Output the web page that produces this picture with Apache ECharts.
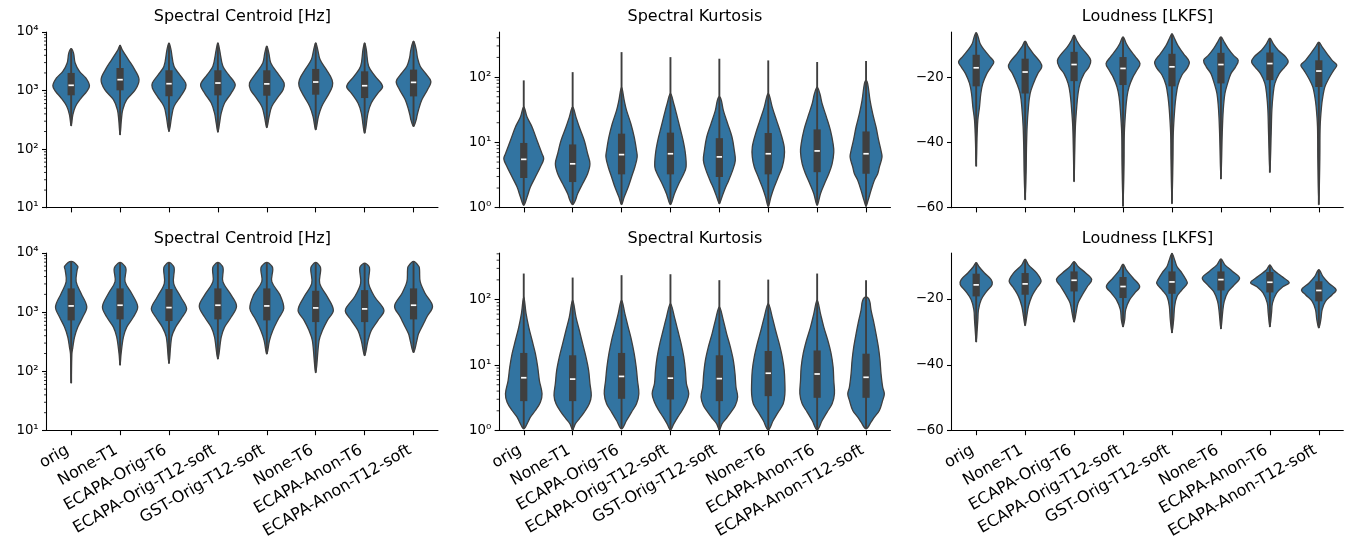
<!DOCTYPE html>
<html><head><meta charset="utf-8">
<script src="https://cdn.jsdelivr.net/npm/echarts@6/dist/echarts.min.js"></script>
<style>html,body{margin:0;padding:0;background:#fff}#c{width:1351px;height:538px}</style>
</head><body><div id="c"></div>
<script>
const categories = ['orig','None-T1','ECAPA-Orig-T6','ECAPA-Orig-T12-soft','GST-Orig-T12-soft','None-T6','ECAPA-Anon-T6','ECAPA-Anon-T12-soft'];
const panelTitles = ['Spectral Centroid [Hz]','Spectral Kurtosis','Loudness [LKFS]'];

const centroidTicks = [10,100,1000,10000];
const centroidMinorTicks = [20,30,40,50,60,70,80,90,200,300,400,500,600,700,800,900,2000,3000,4000,5000,6000,7000,8000,9000];
const kurtosisTicks = [1,10,100];
const kurtosisMinorTicks = [2,3,4,5,6,7,8,9,20,30,40,50,60,70,80,90,200,300,400,500];
const loudnessTicks = [-60,-40,-20];

// box stats per violin: [whisker low, q1, median, q3, whisker high]
// shapes per violin: [value, relative density] from top tip to bottom tip

// ---- top row ----
const centroidTopStats = [
  [250,830,1230,2000,5200],[175,1010,1535,2430,5950],[200,800,1310,2220,6520],[195,828,1345,2220,6520],
  [234,817,1300,2220,5710],[214,850,1400,2340,6520],[187,745,1210,2130,6520],[244,795,1380,2280,6950]
];
const centroidTopShapes = [
  [[5200,0],[4390,7],[2960,12],[2130,25],[1640,44],[1210,55],[968,47],[745,30],[536,13],[386,5],[250,0]],
  [[5950,0],[5010,6],[3380,25],[2280,44],[1535,57],[1035,46],[698,20],[470,8],[317,4],[175,0]],
  [[6520,0],[5010,6],[2600,15],[1870,32],[1345,50],[1105,50],[795,35],[536,15],[361,8],[200,0]],
  [[6520,0],[5010,5],[2600,15],[1870,32],[1260,52],[907,40],[612,20],[412,10],[278,5],[195,0]],
  [[5710,0],[4390,6],[2960,12],[2000,32],[1345,52],[1035,49],[795,35],[536,15],[361,7],[234,0]],
  [[6520,0],[5010,6],[3380,13],[2280,32],[1535,49],[1180,50],[795,35],[536,18],[361,8],[214,0]],
  [[6520,0],[5010,5],[2600,12],[1750,32],[1180,54],[907,40],[612,20],[412,10],[187,0]],
  [[6950,0],[5010,8],[3600,12],[2600,20],[2000,35],[1440,52],[1035,42],[698,25],[470,15],[361,10],[317,8],[244,0]]
];

const kurtosisTopStats = [
  [1.09,2.85,5.5,9.8,89],[1.12,2.47,4.7,9.3,119],[1.12,3.24,6.5,13.6,241],[1.12,3.24,6.7,14.1,202],
  [1.15,2.95,6.0,11.6,191],[1.05,3.24,6.7,13.9,180],[1.09,3.5,7.4,15.8,170],[1.05,3.31,6.7,14.7,176]
];
const kurtosisTopShapes = [
  [[35,0],[24.4,10],[17.2,25],[10.7,40],[6.7,55],[5.6,60],[4.2,50],[2.95,35],[2.07,20],[1.46,10],[1.09,0]],
  [[35,0],[24.4,10],[17.2,20],[10.7,35],[6.7,45],[4.7,52],[3.31,45],[2.33,30],[1.64,15],[1.29,8],[1.12,0]],
  [[70,0],[44,8],[30.9,15],[19.3,28],[12.1,38],[7.5,45],[5.97,47],[4.2,40],[2.95,30],[2.07,20],[1.46,8],[1.12,0]],
  [[56,0],[39,10],[27.5,18],[17.2,28],[10.7,38],[6.7,45],[4.2,47],[3.31,40],[2.33,25],[1.64,12],[1.12,0]],
  [[50,0],[44,6],[30.9,12],[19.3,25],[12.1,38],[7.5,45],[5.3,48],[3.73,40],[2.62,28],[1.84,15],[1.37,6],[1.15,0]],
  [[56,0],[49,5],[34.7,12],[21.7,25],[13.6,38],[8.5,48],[5.97,48],[4.2,42],[2.95,30],[2.07,18],[1.46,8],[1.05,0]],
  [[70,0],[56,8],[39,15],[24.4,28],[15.3,40],[9.5,48],[7.1,50],[4.7,45],[3.31,35],[2.33,22],[1.64,10],[1.09,0]],
  [[89,0],[79,5],[44,12],[27.5,20],[17.2,30],[10.7,38],[7.5,45],[5.97,48],[4.2,40],[3.31,35],[2.62,25],[1.84,15],[1.29,6],[1.05,0]]
];

const loudnessTopStats = [
  [-47.3,-22.7,-17,-13,-6.2],[-57.6,-24.9,-18.3,-14.2,-8.8],[-52,-21.1,-16,-12.1,-7],[-59.6,-22.3,-17.2,-13.7,-7.5],
  [-58.8,-22.7,-16.7,-12.7,-6.5],[-51.2,-21.8,-16,-12.4,-7.5],[-49.2,-20.8,-15.7,-12.3,-7.9],[-59.1,-22.9,-18,-14.7,-9.1]
];
const loudnessTopShapes = [
  [[-6.2,0],[-7.5,6],[-9.6,12],[-11.6,25],[-13.7,42],[-15.2,53],[-16.7,45],[-18.8,32],[-21.8,20],[-24.9,14],[-29,10],[-33,5],[-37,3],[-40,2],[-47.3,0]],
  [[-8.8,0],[-10.6,10],[-12.7,25],[-15.2,45],[-16.7,50],[-18.8,38],[-21.8,25],[-24.9,15],[-29,10],[-35,6],[-42,4],[-49,3],[-57.6,0]],
  [[-7,0],[-8.6,8],[-10.6,20],[-12.7,38],[-14.7,50],[-16.7,45],[-18.8,30],[-21.8,18],[-24.9,12],[-29,8],[-35,4],[-43,2],[-52,0]],
  [[-7.5,0],[-9.6,10],[-11.6,22],[-13.7,38],[-15.7,51],[-17.7,42],[-19.8,30],[-22.9,18],[-25.9,12],[-30,8],[-37,4],[-47,3],[-59.6,0]],
  [[-6.5,0],[-8.1,8],[-10.2,18],[-12.7,35],[-15.2,52],[-17.2,45],[-19.2,30],[-22.3,18],[-25.9,12],[-30,8],[-37,4],[-45,3],[-58.8,0]],
  [[-7.5,0],[-9.1,10],[-11.1,22],[-13.2,38],[-14.7,52],[-16.7,44],[-18.8,30],[-21.8,20],[-24.9,12],[-30,7],[-37,4],[-51.2,0]],
  [[-7.9,0],[-9.6,10],[-11.6,25],[-13.7,48],[-15.2,55],[-16.7,45],[-18.8,28],[-21.8,15],[-24.9,10],[-30,6],[-37,4],[-49.2,0]],
  [[-9.1,0],[-10.6,10],[-12.7,25],[-14.7,40],[-16.2,54],[-17.7,45],[-20.3,30],[-22.9,18],[-25.9,12],[-29,8],[-35,4],[-45,3],[-59.1,0]]
];

// ---- bottom row ----
const centroidBottomStats = [
  [63,726,1275,2520,7200],[127,755,1310,2520,6920],[136,708,1195,2460,6920],[161,755,1310,2520,6920],
  [196,726,1275,2520,6920],[95,680,1180,2300,6920],[184,680,1135,2360,6740],[209,755,1310,2520,7200]
];
const centroidBottomShapes = [
  [[7200,0],[5920,20],[5190,18],[3280,15],[2070,30],[1230,47],[828,35],[559,20],[377,10],[255,5],[196,2],[63,0]],
  [[6920,0],[5920,15],[5190,18],[3280,15],[2070,35],[1230,53],[828,40],[559,20],[377,10],[196,3],[127,0]],
  [[6920,0],[5920,14],[5190,16],[3070,14],[1820,35],[1150,53],[828,40],[559,20],[377,8],[136,0]],
  [[6920,0],[5920,14],[5190,16],[3280,15],[1940,40],[1260,56],[828,40],[559,20],[377,10],[161,0]],
  [[6920,0],[5920,16],[5190,18],[3280,15],[1940,40],[1150,51],[776,35],[490,18],[331,8],[196,0]],
  [[6920,0],[5920,13],[5190,15],[3070,12],[1820,35],[1077,53],[726,35],[490,20],[331,10],[95,0]],
  [[6740,0],[5920,13],[5190,15],[3070,12],[1820,30],[1077,58],[726,40],[490,20],[331,10],[184,0]],
  [[7200,0],[5920,16],[5190,18],[3280,20],[2070,35],[1260,57],[828,40],[637,30],[430,15],[331,10],[209,0]]
];

const kurtosisBottomStats = [
  [1.06,2.81,6.4,15.3,250],[1.02,2.81,6.1,14.1,217],[1.06,3.05,6.7,15.3,236],[1.02,2.98,6.3,13.7,244],
  [1.02,2.81,6.2,14.1,198],[1.02,3.35,7.5,16.4,202],[1.02,3.16,7.3,16.7,250],[1.06,3.16,6.5,14.9,198]
];
const kurtosisBottomShapes = [
  [[110,0],[61,7],[38,15],[23.9,25],[14.9,35],[9.3,42],[5.8,47],[3.64,55],[2.71,50],[2.02,35],[1.6,20],[1.26,10],[1.06,0]],
  [[98,0],[54,10],[34,20],[21.2,30],[13.3,40],[8.3,48],[5.2,52],[3.43,56],[2.56,50],[1.91,35],[1.51,20],[1.26,8],[1.02,0]],
  [[98,0],[61,10],[38,20],[23.9,30],[14.9,38],[9.3,44],[5.8,48],[3.64,52],[2.56,45],[1.91,30],[1.42,15],[1.06,0]],
  [[87,0],[54,12],[34,22],[21.2,32],[13.3,40],[8.3,45],[5.2,48],[3.64,55],[2.71,48],[2.02,35],[1.6,22],[1.26,10],[1.02,0]],
  [[77,0],[48,12],[30,22],[18.9,33],[11.8,42],[7.4,47],[4.6,50],[3.24,55],[2.41,48],[1.91,35],[1.51,20],[1.26,8],[1.02,0]],
  [[87,0],[54,12],[34,22],[21.2,33],[13.3,42],[8.3,48],[5.2,50],[3.64,50],[2.56,45],[1.91,30],[1.42,15],[1.02,0]],
  [[98,0],[61,10],[38,20],[23.9,32],[14.9,42],[9.3,48],[5.8,50],[3.64,52],[2.56,45],[1.91,30],[1.42,15],[1.02,0]],
  [[110,0],[98,10],[69,15],[48,22],[30,30],[18.9,37],[11.8,42],[7.4,45],[4.6,50],[3.64,55],[2.88,50],[2.02,40],[1.6,25],[1.34,15],[1.06,0]]
];

const loudnessBottomStats = [
  [-33.1,-19.2,-15.7,-12.3,-8.9],[-28.1,-18.7,-15.4,-12.1,-7.9],[-27,-17.7,-14.3,-11.6,-8.6],[-28.5,-19.7,-16.2,-13.3,-9.4],
  [-30.3,-18.4,-14.8,-11.6,-6.1],[-29.1,-17.4,-14.1,-11.6,-7.8],[-28.5,-18,-14.9,-11.8,-9.6],[-28.8,-20.7,-17.4,-14.6,-11.1]
];
const loudnessBottomShapes = [
  [[-8.9,0],[-10.1,8],[-12.1,25],[-14.1,45],[-15.6,48],[-17.6,32],[-20.2,15],[-23.2,7],[-26.3,5],[-29.3,3],[-33.1,0]],
  [[-7.9,0],[-9.6,10],[-12.1,35],[-14.6,48],[-16.6,35],[-19.2,20],[-22.2,10],[-25.2,5],[-28.1,0]],
  [[-8.6,0],[-10.1,12],[-12.1,35],[-14.1,53],[-16.2,40],[-18.7,25],[-21.2,12],[-24.2,6],[-27,0]],
  [[-9.4,0],[-11.1,10],[-13.6,30],[-16.2,50],[-18.2,35],[-20.2,20],[-23.2,8],[-26.3,5],[-28.5,0]],
  [[-6.1,0],[-8.1,8],[-10.1,15],[-12.1,30],[-14.1,42],[-15.2,46],[-17.2,30],[-19.2,15],[-22.2,8],[-26.3,5],[-30.3,0]],
  [[-7.8,0],[-9.6,12],[-11.6,35],[-13.6,56],[-15.7,40],[-17.7,22],[-20.7,10],[-24.2,5],[-29.1,0]],
  [[-9.6,0],[-11.1,10],[-13.1,35],[-15,58],[-16.2,40],[-18.2,20],[-21.2,8],[-24.2,5],[-28.5,0]],
  [[-11.1,0],[-13.1,12],[-15.2,30],[-17.2,52],[-18.7,40],[-20.7,20],[-23.2,10],[-26.3,6],[-28.8,0]]
];

// ---------- rendering ----------
const FONT = 'DejaVu Sans';
const FILL = '#3274a1', DARK = '#3f3f3f';
const DENS_UNITS_PER_BAND = 147;
const SUP = {'0':'\u2070','1':'\u00b9','2':'\u00b2','3':'\u00b3','4':'\u2074','5':'\u2075','6':'\u2076','7':'\u2077','8':'\u2078','9':'\u2079'};
function powLabel(v){ const e = Math.round(Math.log10(v)); return '10' + String(e).split('').map(c=>SUP[c]).join(''); }
function minusLabel(v){ return String(v).replace('-', '\u2212'); }

const gridsPx = [
  {left:46.7, top:32, width:391.3, height:175.7},
  {left:499.3, top:32, width:391.2, height:175.7},
  {left:951.7, top:32, width:391.6, height:175.7},
  {left:46.7, top:253, width:391.3, height:177.5},
  {left:499.3, top:253, width:391.2, height:177.5},
  {left:951.7, top:253, width:391.6, height:177.5}
];
const panels = [
  {kind:'log', min:10, max:10000, ticks:centroidTicks, minor:centroidMinorTicks, stats:centroidTopStats, shapes:centroidTopShapes, title:panelTitles[0]},
  {kind:'log', min:1, max:490, ticks:kurtosisTicks, minor:kurtosisMinorTicks, stats:kurtosisTopStats, shapes:kurtosisTopShapes, title:panelTitles[1]},
  {kind:'lin', min:-60, max:-6, ticks:loudnessTicks, stats:loudnessTopStats, shapes:loudnessTopShapes, title:panelTitles[2]},
  {kind:'log', min:10, max:10000, ticks:centroidTicks, minor:centroidMinorTicks, stats:centroidBottomStats, shapes:centroidBottomShapes, title:panelTitles[0]},
  {kind:'log', min:1, max:515, ticks:kurtosisTicks, minor:kurtosisMinorTicks, stats:kurtosisBottomStats, shapes:kurtosisBottomShapes, title:panelTitles[1]},
  {kind:'lin', min:-60, max:-6, ticks:loudnessTicks, stats:loudnessBottomStats, shapes:loudnessBottomShapes, title:panelTitles[2]}
];

const axisLineStyle = {color:'#000', width:1.07};
const grid = [], xAxis = [], yAxis = [], series = [], graphic = [];
panels.forEach((p, gi) => {
  grid.push(Object.assign({containLabel:false, outerBoundsMode:'none'}, gridsPx[gi]));
  const bottomRow = gi >= 3;
  xAxis.push({
    type:'category', gridIndex:gi, data:categories, boundaryGap:true,
    axisLine:{show:true, onZero:false, lineStyle:axisLineStyle},
    axisTick:{show:true, alignWithLabel:true, length:4.7, lineStyle:axisLineStyle},
    axisLabel:{show:bottomRow, interval:0, rotate:30, fontFamily:FONT, fontSize:16, color:'#000', margin:16.5, padding:[0,4,0,0], hideOverlap:false},
    splitLine:{show:false}
  });
  yAxis.push({
    type: p.kind === 'log' ? 'log' : 'value', logBase:10, gridIndex:gi, min:p.min, max:p.max, position:'left',
    axisLine:{show:true, onZero:false, lineStyle:axisLineStyle},
    axisTick:{show:true, customValues:p.ticks, length:4.7, lineStyle:axisLineStyle},
    axisLabel:{show:true, customValues:p.ticks, formatter: p.kind === 'log' ? powLabel : minusLabel,
      fontFamily:FONT, fontSize:13.3, color:'#000', margin:8},
    splitLine:{show:false}, minorTick:{show:false}
  });
  const stats = p.stats, shapes = p.shapes;
  series.push({
    type:'custom', coordinateSystem:'cartesian2d', xAxisIndex:gi, yAxisIndex:gi,
    data: categories.map((c, i) => [i, stats[i][2]]),
    encode:{x:0, y:1}, clip:false, silent:true,
    renderItem(params, api) {
      const i = api.value(0);
      const st = stats[i], sh = shapes[i];
      const cx = api.coord([i, st[2]])[0];
      const band = Math.abs(api.coord([1, st[2]])[0] - api.coord([0, st[2]])[0]);
      const k = band / DENS_UNITS_PER_BAND;
      const yOf = v => api.coord([i, v])[1];
      const right = sh.map(([v, d]) => [cx + d * k, yOf(v)]);
      const left = sh.slice(1, -1).reverse().map(([v, d]) => [cx - d * k, yOf(v)]);
      const pts = right.concat(left);
      const ylo = yOf(st[0]), yq1 = yOf(st[1]), ymed = yOf(st[2]), yq3 = yOf(st[3]), yhi = yOf(st[4]);
      return {type:'group', children:[
        {type:'polygon', shape:{points:pts, smooth:0.35}, style:{fill:FILL, stroke:DARK, lineWidth:1.3}},
        {type:'line', shape:{x1:cx, y1:ylo, x2:cx, y2:yhi}, style:{stroke:DARK, lineWidth:1.9}},
        {type:'rect', shape:{x:cx-3.6, y:yq3, width:7.2, height:yq1-yq3}, style:{fill:DARK}},
        {type:'rect', shape:{x:cx-2.7, y:ymed-0.85, width:5.4, height:1.7}, style:{fill:'#fff'}}
      ]};
    }
  });
  if (p.kind === 'log') {
    const minor = p.minor.filter(v => v <= p.max);
    series.push({
      type:'custom', coordinateSystem:'cartesian2d', xAxisIndex:gi, yAxisIndex:gi,
      data: minor.map(v => [0, v]), encode:{x:0, y:1}, clip:false, silent:true,
      renderItem(params, api) {
        const v = api.value(1);
        const c0 = api.coord([0, v]), c1 = api.coord([1, v]);
        const x0 = c0[0] - (c1[0] - c0[0]) / 2;
        return {type:'line', shape:{x1:x0 - 2.7, y1:c0[1], x2:x0, y2:c0[1]}, style:{stroke:'#000', lineWidth:0.8}};
      }
    });
  }
  const g = gridsPx[gi];
  graphic.push({
    type:'text', x: g.left + g.width / 2, y: bottomRow ? 238.5 : 16.8, silent:true,
    style:{text:p.title, font:'16px "DejaVu Sans"', fill:'#000', align:'center', verticalAlign:'middle', textAlign:'center', textVerticalAlign:'middle'}
  });
});

const chart = echarts.init(document.getElementById('c'), null, {renderer:'canvas'});
chart.setOption({
  backgroundColor:'#fff', animation:false,
  textStyle:{fontFamily:FONT},
  grid, xAxis, yAxis, series, graphic
});
</script>
</body></html>
